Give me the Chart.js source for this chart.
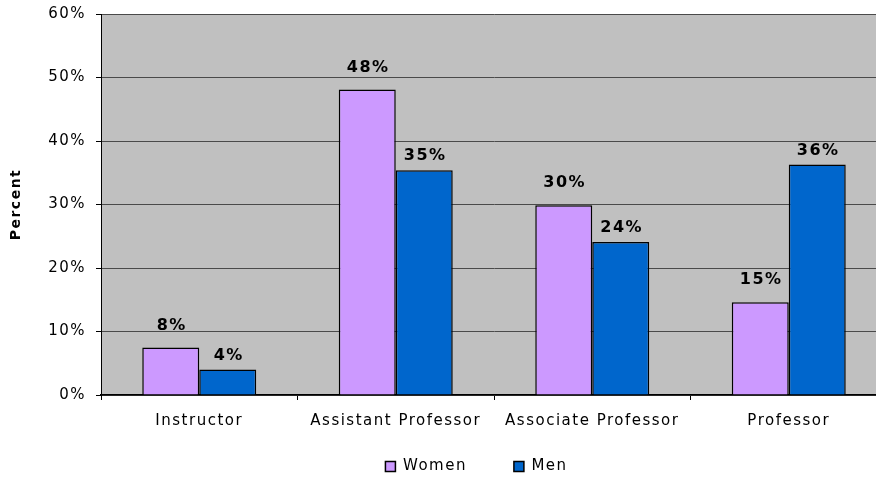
<!DOCTYPE html>
<html>
<head>
<meta charset="utf-8">
<script src="https://cdn.jsdelivr.net/npm/chart.js@4.4.1/dist/chart.umd.min.js"></script>
<style>
  html, body { margin: 0; padding: 0; background: #fff; overflow: hidden; }
  canvas { display: block; }
</style>
</head>
<body>
<canvas id="myChart" width="890" height="485"></canvas>
<script>
// faculty rank data (percent)
let ranks = ['Instructor', 'Assistant Professor', 'Associate Professor', 'Professor'];
let women = [7.5, 48.1, 29.9, 14.6];
let men = [4.0, 35.4, 24.1, 36.3];
let yTicks = [0, 10, 20, 30, 40, 50, 60];

Chart.defaults.font.family = '"DejaVu Sans", Verdana, sans-serif';

// the original text is set quite wide, so spread the letters a bit
const spacing = {
    id: 'spacing',
    beforeUpdate(chart) { chart.ctx.letterSpacing = '1.5px'; },
    beforeDraw(chart) { chart.ctx.letterSpacing = '1.5px'; }
};

// grey plot area
const plotBg = {
    id: 'plotBg',
    beforeDraw(chart) {
        const {ctx, chartArea: a} = chart;
        ctx.save();
        ctx.fillStyle = '#c0c0c0';
        ctx.fillRect(a.left, a.top, a.right - a.left, a.bottom - a.top);
        ctx.restore();
    }
};

// legend sits under the plot area (not the whole canvas) and a bit higher,
// the big label padding is only wanted between the two items
const legendShift = {
    id: 'legendShift',
    afterLayout(chart) {
        chart.legend.left += 33;
        chart.legend.right += 33;
        chart.legend.top -= 23;
    }
};

// value labels above the bars
const barLabels = {
    id: 'barLabels',
    afterDatasetsDraw(chart) {
        const ctx = chart.ctx;
        ctx.save();
        ctx.font = 'bold 16px "DejaVu Sans", Verdana, sans-serif';
        ctx.fillStyle = '#000';
        ctx.textAlign = 'center';
        ctx.textBaseline = 'middle';
        chart.data.datasets.forEach((ds, i) => {
            chart.getDatasetMeta(i).data.forEach((bar, j) => {
                ctx.fillText(Math.round(ds.data[j]) + '%', bar.x + 1, bar.y - ds.labelGap);
            });
        });
        ctx.restore();
    }
};

let ctx = document.getElementById('myChart');

let myChart = new Chart(ctx, {
    type: 'bar',
    data: {
        labels: ranks,
        datasets: [
            {label: 'Women', data: women, backgroundColor: '#cc99ff', borderColor: '#000', borderWidth: 1.5, labelGap: 22},
            {label: 'Men', data: men, backgroundColor: '#0066cc', borderColor: '#000', borderWidth: 1.5, labelGap: 14}
        ]
    },
    options: {
        responsive: false,
        animation: false,
        layout: {padding: {left: 0, right: 3, top: 14, bottom: 10}},
        datasets: {bar: {categoryPercentage: 0.58, barPercentage: 1}},
        scales: {
            x: {
                grid: {offset: true, drawOnChartArea: false, tickLength: 5, tickColor: '#000'},
                border: {color: '#000', width: 1.5},
                ticks: {color: '#000', font: {size: 15}, padding: 12, autoSkip: false, maxRotation: 0},
                afterFit(s) { s.height = 40; }
            },
            y: {
                min: yTicks[0],
                max: yTicks[yTicks.length - 1],
                ticks: {stepSize: yTicks[1] - yTicks[0], callback: v => v + '%', color: '#000', font: {size: 15}, padding: 10},
                grid: {color: '#4a4a4a', tickLength: 5, tickColor: '#000'},
                border: {color: '#000'},
                title: {display: true, text: 'Percent', color: '#000', font: {size: 14, weight: 'bold'}, padding: {top: 8, bottom: 0}},
                afterFit(s) {
                    s.width = 101;
                    // tick padding is only meant sideways here
                    s.paddingTop = 9;
                    s.paddingBottom = 9;
                }
            }
        },
        plugins: {
            legend: {
                position: 'bottom',
                maxHeight: 40,
                labels: {boxWidth: 10, boxHeight: 10, padding: 47, color: '#000', font: {size: 15}}
            },
            tooltip: {enabled: false}
        }
    },
    plugins: [spacing, plotBg, legendShift, barLabels]
});
</script>
</body>
</html>
